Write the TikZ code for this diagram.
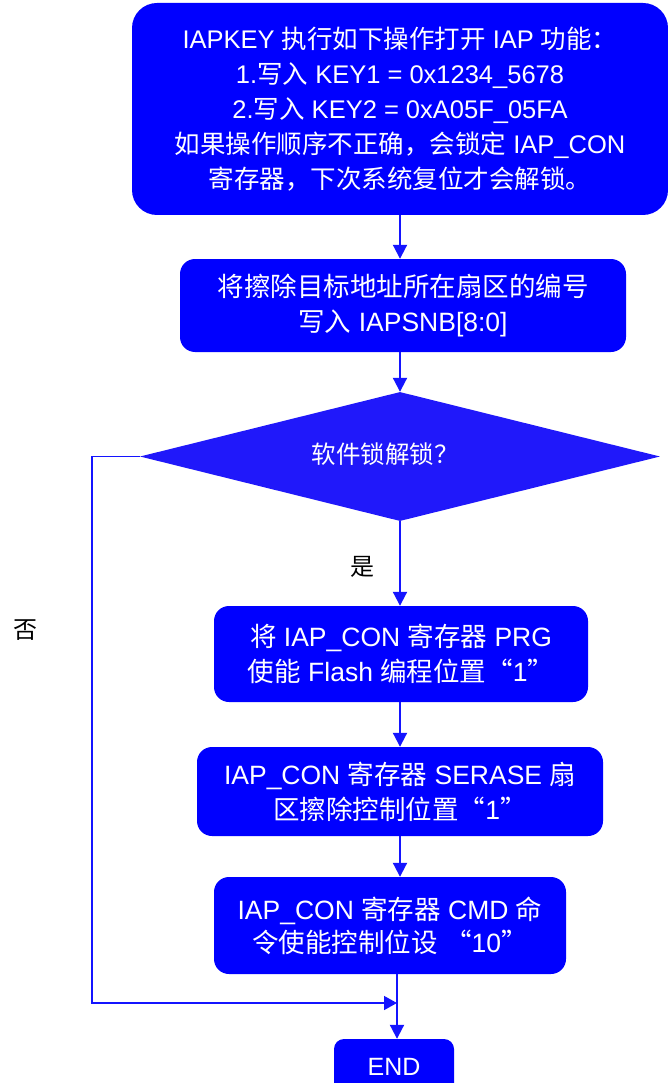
\documentclass[tikz,border=0pt]{standalone}
\usepackage{fontspec}
\setmainfont{Liberation Sans}
\newfontfamily\cjk{Noto Sans CJK SC}
\usetikzlibrary{shapes.geometric,arrows.meta}
\newcommand{\zh}[1]{{\cjk #1}}
\definecolor{boxblue}{RGB}{0,0,255}
\definecolor{diablue}{RGB}{32,24,250}
\definecolor{lineblue}{RGB}{20,20,255}

\begin{document}
\begin{tikzpicture}[x=1pt,y=-1pt,
	box/.style={fill=boxblue,text=white,rounded corners=15pt,align=center,inner sep=0pt,font=\fontsize{26.5}{35}\selectfont},
	decide/.style={diamond,aspect=4,fill=diablue,text=white,inner sep=0pt,font=\fontsize{24.5}{30}\selectfont},
	arr/.style={draw=lineblue,line width=2pt,-{Triangle[width=14pt,length=14pt]}},
	backline/.style={draw=lineblue,line width=1.5pt,-{Triangle[width=14pt,length=13pt]}},
	lbl/.style={font=\fontsize{24}{28}\selectfont\cjk}]
\useasboundingbox (0,0) rectangle (667,1083);

\node (key) at (400,109) [box,rounded corners=25pt,minimum width=536pt,minimum height=212pt,font=\fontsize{25.5}{35}\selectfont]
	{IAPKEY \zh{执行如下操作打开} IAP \zh{功能：}\\
	 1.\zh{写入} KEY1 = 0x1234\_5678\\
	 2.\zh{写入} KEY2 = 0xA05F\_05FA\\
	 \zh{如果操作顺序不正确，会锁定} IAP\_CON\\
	 \zh{寄存器，下次系统复位才会解锁。}};
\node (sec) at (403,305.5) [box,minimum width=446pt,minimum height=93pt]
	{\zh{将擦除目标地址所在扇区的编号}\\ \zh{写入} IAPSNB[8:0]};
\node (dia) at (400,456.5) [decide,minimum width=520pt,minimum height=129pt]
	{\raisebox{6pt}{\zh{软件锁解锁？}\hspace{30pt}}};
\node (prg) at (401,654) [box,minimum width=374pt,minimum height=96pt]
	{\zh{将} IAP\_CON \zh{寄存器} PRG\\ \zh{使能} Flash \zh{编程位置“}1\zh{”}};
\node (ser) at (400,791.5) [box,minimum width=406pt,minimum height=89pt]
	{IAP\_CON \zh{寄存器} SERASE \zh{扇}\\ \zh{区擦除控制位置“}1\zh{”}};
\node (cmd) at (390,925.5) [box,minimum width=352pt,minimum height=97pt,font=\fontsize{26.5}{33}\selectfont]
	{IAP\_CON \zh{寄存器} CMD \zh{命}\\ \zh{令使能控制位设} \zh{“}10\zh{”}};
\node (stop) at (394,1067) [box,rounded corners=10pt,minimum width=120pt,minimum height=56pt,font=\fontsize{25}{30}\selectfont] {END};

\node (yes) at (362,567) [lbl] {是};
\node (no) at (25,630) [lbl] {否};

\coordinate (j) at (397,1003);

\draw[arr] (key.south) -- (key.south |- sec.north);
\draw[arr] (key.south |- sec.south) -- (dia.north);
\draw[arr] (dia.south) -- (dia.south |- prg.north);
\draw[arr] (dia.south |- prg.south) -- (dia.south |- ser.north);
\draw[arr] (dia.south |- ser.south) -- (dia.south |- cmd.north);
\draw[arr] (j |- cmd.south) -- (j |- stop.north);
\draw[backline] (dia.west) -- ++(-48,0) |- (j);
\end{tikzpicture}
\end{document}
